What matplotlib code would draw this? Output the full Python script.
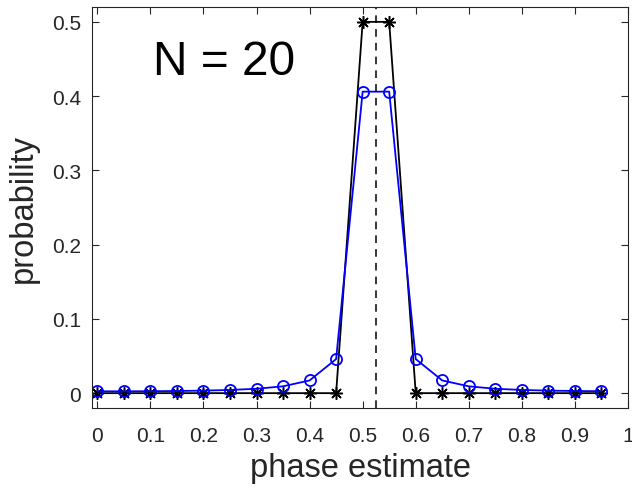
import numpy as np
import matplotlib
matplotlib.use("Agg")
import matplotlib.pyplot as plt

# phase estimate bins and probabilities
phase = [0.00, 0.05, 0.10, 0.15, 0.20, 0.25, 0.30, 0.35, 0.40, 0.45,
         0.50, 0.55, 0.60, 0.65, 0.70, 0.75, 0.80, 0.85, 0.90, 0.95]
prob_exact = [0, 0, 0, 0, 0, 0, 0, 0, 0, 0,
              0.5, 0.5, 0, 0, 0, 0, 0, 0, 0, 0]
prob_qft = [0.0025, 0.0025, 0.0026, 0.0029, 0.0034, 0.0043, 0.0059, 0.0092, 0.0171, 0.0459,
            0.406, 0.406, 0.0459, 0.0171, 0.0092, 0.0059, 0.0043, 0.0034, 0.0029, 0.0026]
true_phase = 0.525
xticks = [0, 0.1, 0.2, 0.3, 0.4, 0.5, 0.6, 0.7, 0.8, 0.9, 1]
xticklabels = ["0", "0.1", "0.2", "0.3", "0.4", "0.5", "0.6", "0.7", "0.8", "0.9", "1"]
yticks = [0, 0.1, 0.2, 0.3, 0.4, 0.5]
yticklabels = ["0", "0.1", "0.2", "0.3", "0.4", "0.5"]

plt.rcParams['font.family'] = ['Liberation Sans', 'DejaVu Sans']
gray = (0.15, 0.15, 0.15)

fig = plt.figure(figsize=(6.32, 4.89), dpi=100)
ax = fig.add_axes([92 / 632, 1 - 409 / 489, (628 - 92) / 632, (409 - 8) / 489])

ax.plot(phase, prob_exact, '-', color='black', lw=1.3, marker=(8, 2, 0), ms=9, mew=1.1)
ax.plot(phase, prob_qft, '-o', color='blue', lw=1.3, ms=8, mfc='none', mew=1.3)
ax.axvline(true_phase, color='black', ls='--', lw=1.1, dashes=(5, 4))

ax.text(0.105, 0.446, "N = 20", fontsize=34.5, va='center', ha='left', color='black')

ax.set_xlim(-0.01, 1.0)
ax.set_ylim(-0.02, 0.52)
ax.set_xticks(xticks)
ax.set_xticklabels(xticklabels)
ax.set_yticks(yticks)
ax.set_yticklabels(yticklabels)
ax.tick_params(direction='in', length=5, width=0.8, colors=gray, labelsize=15,
               top=True, right=True)
ax.tick_params(axis='x', pad=13)
ax.tick_params(axis='y', pad=8)
for s in ax.spines.values():
    s.set_color(gray)
    s.set_linewidth(0.8)

ax.set_xlabel("phase estimate", fontsize=23.5, color=gray, labelpad=5)
ax.set_ylabel("probability", fontsize=23.5, color=gray, labelpad=9)

fig.savefig("out.png", dpi=100)
